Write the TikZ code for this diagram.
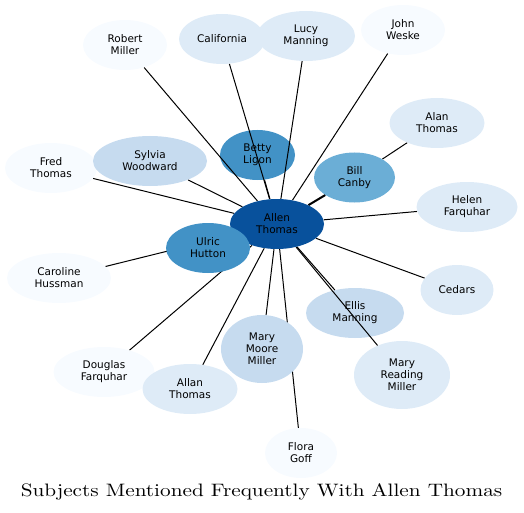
\documentclass[tikz,border=0pt]{standalone}
\usepackage{fontspec}
\usepackage{xcolor}
\usetikzlibrary{shapes.geometric}
\newfontfamily\nodefont{DejaVu Sans}
\newfontfamily\titlefont{lmroman10-regular}[Extension=.otf, FakeStretch=1.18]
\definecolor{blues0}{HTML}{F7FBFF}
\definecolor{blues1}{HTML}{DEEBF7}
\definecolor{blues2}{HTML}{C6DBEF}
\definecolor{blues3}{HTML}{6BAED6}
\definecolor{blues4}{HTML}{4292C6}
\definecolor{blues5}{HTML}{08519C}
\pgfdeclarelayer{below}
\pgfdeclarelayer{links}
\pgfsetlayers{below,links,main}

\begin{document}
\begin{tikzpicture}[
    x=1pt, y=-1pt,
    subject/.style={ellipse, inner sep=0pt, minimum height=50pt, align=center, font=\nodefont\fontsize{10.5}{12}\selectfont},
    rare/.style={subject, fill=blues0},
    few/.style={subject, fill=blues1},
    some/.style={subject, fill=blues2},
    many/.style={subject, fill=blues3},
    often/.style={subject, fill=blues4},
    centre/.style={subject, fill=blues5},
    link/.style={line width=1pt, black},
    strong/.style={link, line width=2pt}
    ]
    \useasboundingbox (0,0) rectangle (524,513);

    \begin{pgfonlayer}{below}
    \node[often, minimum width=75pt] (betty) at (257.5,155) {Betty\\Ligon};
    \node[some, minimum width=98pt] (ellis) at (355,313) {Ellis\\Manning};
    \end{pgfonlayer}

    \node[centre, minimum width=94pt] (allen) at (277,224) {Allen\\Thomas};

    \node[rare, minimum width=84pt] (robert) at (125,45) {Robert\\Miller};
    \node[few, minimum width=86pt] (california) at (222,39) {California};
    \node[few, minimum width=98pt] (lucy) at (306,36) {Lucy\\Manning};
    \node[rare, minimum width=84pt] (john) at (403,30) {John\\Weske};
    \node[few, minimum width=95pt] (alan) at (437,123) {Alan\\Thomas};
    \node[many, minimum width=81pt] (bill) at (354.5,177.5) {Bill\\Canby};
    \node[few, minimum width=101pt] (helen) at (467,207) {Helen\\Farquhar};
    \node[few, minimum width=73pt] (cedars) at (457,290) {Cedars};
    \node[few, minimum width=96pt, minimum height=68pt] (reading) at (402,375) {Mary\\Reading\\Miller};
    \node[some, minimum width=82pt, minimum height=68pt] (moore) at (262,349) {Mary\\Moore\\Miller};
    \node[rare, minimum width=72pt] (flora) at (301,453) {Flora\\Goff};
    \node[rare, minimum width=101pt] (douglas) at (104,372) {Douglas\\Farquhar};
    \node[few, minimum width=95pt] (allan) at (190,389) {Allan\\Thomas};
    \node[rare, minimum width=104pt] (caroline) at (59,278) {Caroline\\Hussman};
    \node[rare, minimum width=92pt] (fred) at (51,168) {Fred\\Thomas};
    \node[some, minimum width=114pt] (sylvia) at (150,161) {Sylvia\\Woodward};
    \node[often, minimum width=84pt] (ulric) at (208,248) {Ulric\\Hutton};

    \node[anchor=base] (title) at (261.5,496.5) {\titlefont\fontsize{18}{20}\selectfont Subjects Mentioned Frequently With Allen Thomas};

    \begin{pgfonlayer}{links}
    \draw[link] (allen) -- (robert);
    \draw[link] (allen) -- (california);
    \draw[link] (allen) -- (lucy);
    \draw[link] (allen) -- (john);
    \draw[link] (allen) -- (betty);
    \draw[strong] (allen) -- (bill);
    \draw[link] (bill) -- (alan);
    \draw[link] (allen) -- (helen);
    \draw[link] (allen) -- (cedars);
    \draw[link] (allen) -- (ellis);
    \draw[link] (allen) -- (reading);
    \draw[link] (allen) -- (moore);
    \draw[link] (allen) -- (flora);
    \draw[link] (allen) -- (allan);
    \draw[link] (allen) -- (douglas);
    \draw[link] (allen) -- (caroline);
    \draw[link] (allen) -- (ulric);
    \draw[link] (allen) -- (sylvia);
    \draw[link] (allen) -- (fred);
    \end{pgfonlayer}

\end{tikzpicture}
\end{document}
